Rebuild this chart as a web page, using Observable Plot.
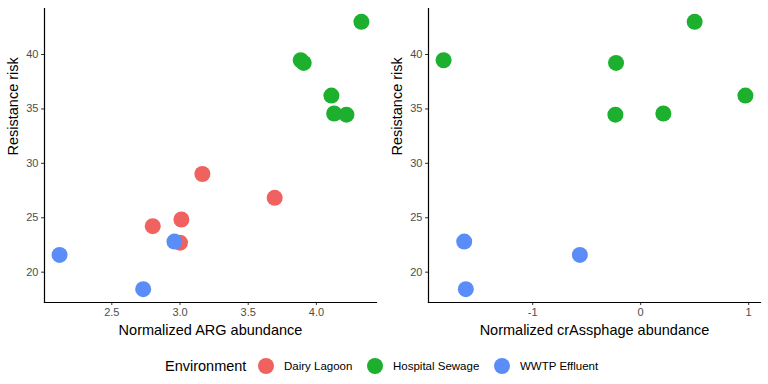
<!DOCTYPE html>
<html>
<head>
<meta charset="utf-8">
<script src="https://cdn.jsdelivr.net/npm/d3@7"></script>
<script src="https://cdn.jsdelivr.net/npm/@observablehq/plot@0.6"></script>
<style>
  html, body { margin: 0; padding: 0; background: #fff; }
  body { width: 768px; height: 384px; overflow: hidden; font-family: "Liberation Sans", Arial, sans-serif; }
  #row { display: flex; flex-direction: row; }
  #legend { position: relative; height: 44px; }
</style>
</head>
<body>
<div id="row"></div>
<div id="legend"></div>
<script>
// ---- data ----
const environments = ["Dairy Lagoon", "Hospital Sewage", "WWTP Effluent"];
const colors = ["#F0625F", "#1DB02F", "#5B8DF8"];

const sampleEnv = [
  "Hospital Sewage","Hospital Sewage","Hospital Sewage","Hospital Sewage","Hospital Sewage","Hospital Sewage",
  "Dairy Lagoon","Dairy Lagoon","Dairy Lagoon","Dairy Lagoon","Dairy Lagoon",
  "WWTP Effluent","WWTP Effluent","WWTP Effluent"
];
const argAbundance = [4.33, 3.885, 3.907, 4.11, 4.13, 4.22, 3.164, 3.694, 3.01, 2.80, 3.0, 2.117, 2.959, 2.73];
const crassAbundance = [0.50, -1.825, -0.228, 0.97, 0.21, -0.234, null, null, null, null, null, -0.563, -1.634, -1.619];
const resistanceRisk = [43.0, 39.47, 39.23, 36.23, 34.58, 34.47, 29.02, 26.83, 24.84, 24.23, 22.71, 21.58, 22.81, 18.44];

const xTicksArg = [2.5, 3.0, 3.5, 4.0];
const xTicksCrass = [-1, 0, 1];
const yTicks = [20, 25, 30, 35, 40];

const rows = sampleEnv.map((e, i) => ({env: e, arg: argAbundance[i], crass: crassAbundance[i], risk: resistanceRisk[i]}));

function expand(vals, m = 0.05) {
  const [a, b] = d3.extent(vals);
  const r = b - a;
  return [a - r * m, b + r * m];
}
const yDomain = expand(resistanceRisk);

function panel(key, ticks, fmt, label) {
  const data = rows.filter(d => d[key] != null);
  return Plot.plot({
    width: 384,
    height: 340,
    marginLeft: 44,
    marginRight: 8,
    marginTop: 8,
    marginBottom: 38,
    style: {fontFamily: "Liberation Sans, Arial, sans-serif", background: "#fff", overflow: "visible"},
    x: {domain: expand(data.map(d => d[key])), ticks: ticks, tickFormat: fmt, label: null},
    y: {domain: yDomain, ticks: yTicks, label: null},
    color: {domain: environments, range: colors},
    marks: [
      Plot.axisX({ticks: ticks, tickFormat: fmt, tickSize: 3, tickPadding: 3, fontSize: 11, color: "#4d4d4d", stroke: "#333", label: null}),
      Plot.axisY({ticks: yTicks, tickSize: 3, tickPadding: 3, fontSize: 11, color: "#4d4d4d", stroke: "#333", label: null}),
      Plot.frame({anchor: "left", stroke: "#000", strokeWidth: 1.2}),
      Plot.frame({anchor: "bottom", stroke: "#000", strokeWidth: 1.2}),
      Plot.dot(data, {x: key, y: "risk", fill: "env", r: 8, stroke: null}),
      Plot.text([label], {frameAnchor: "bottom", dy: 32, fontSize: 14.5, fill: "#000", text: d => d}),
      Plot.text(["Resistance risk"], {frameAnchor: "left", dx: -31, rotate: -90, fontSize: 14.5, fill: "#000", text: d => d})
    ]
  });
}

const row = document.getElementById("row");
const p1 = panel("arg", xTicksArg, d3.format(".1f"), "Normalized ARG abundance");
const p2 = panel("crass", xTicksCrass, d => String(d), "Normalized crAssphage abundance");
row.appendChild(p1);
row.appendChild(p2);

// ---- legend ----
const svg = d3.select("#legend").append("svg").attr("width", 768).attr("height", 44)
  .style("font-family", "Liberation Sans, Arial, sans-serif");
svg.append("text").attr("x", 165).attr("y", 31).attr("font-size", 14.5).attr("fill", "#000").text("Environment");
const itemX = [266, 375, 502];
environments.forEach((e, i) => {
  svg.append("circle").attr("cx", itemX[i]).attr("cy", 26).attr("r", 8).attr("fill", colors[i]);
  svg.append("text").attr("x", itemX[i] + 18).attr("y", 30).attr("font-size", 11.5).attr("fill", "#000").text(e);
});
</script>
</body>
</html>
